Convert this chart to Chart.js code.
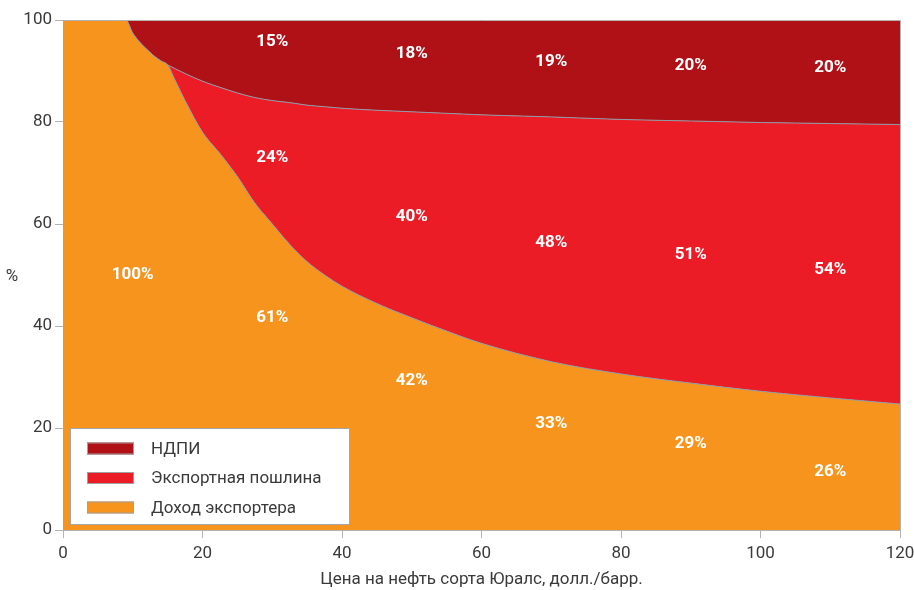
<!DOCTYPE html>
<html>
<head>
<meta charset="utf-8">
<script src="https://cdn.jsdelivr.net/npm/chart.js@4/dist/chart.umd.min.js"></script>
<style>
  html, body { margin: 0; padding: 0; background: #fff; }
  #wrap { width: 914px; height: 590px; }
</style>
</head>
<body>
<div id="wrap"><canvas id="grafico"></canvas></div>
<script>
// цена Юралс, долл./барр.
var prices   = [0, 5, 9, 10, 12.5, 14, 15, 16, 17.5, 20, 22.5, 25, 27.5, 30, 32.5, 35, 37.5, 40, 45, 50, 55, 60, 70, 80, 90, 100, 110, 120];
// доли выручки, %
var exporter = [100, 100, 100, 97.4, 93.6, 92.0, 91.2, 88.4, 84.2, 78.0, 73.8, 69.3, 64.1, 60.0, 56.0, 52.6, 50.0, 47.8, 44.4, 41.6, 39.0, 36.6, 33.0, 30.6, 28.8, 27.2, 25.9, 24.7];
var duty     = [0, 0, 0, 0, 0, 0, 0, 2.1, 5.3, 10.0, 13.0, 16.4, 20.7, 24.2, 27.8, 30.7, 33.0, 34.9, 37.9, 40.4, 42.7, 44.8, 48.0, 49.9, 51.4, 52.7, 53.8, 54.8];
var ndpi     = [0, 0, 0, 2.6, 6.4, 8.0, 8.8, 9.5, 10.5, 12.0, 13.2, 14.3, 15.2, 15.8, 16.2, 16.7, 17.0, 17.3, 17.7, 18.0, 18.3, 18.6, 19.0, 19.5, 19.8, 20.1, 20.3, 20.5];

var seriesNames  = ['Доход экспортера', 'Экспортная пошлина', 'НДПИ'];
var seriesColors = ['#F7941E', '#EC1C27', '#B01117'];

// подписи на графике: x, y (в единицах осей), текст
var exporterLabels = [[10, 50, '100%'], [30, 41.6, '61%'], [50, 29.2, '42%'], [70, 20.8, '33%'], [90, 16.9, '29%'], [110, 11.4, '26%']];
var dutyLabels     = [[30, 72.9, '24%'], [50, 61.4, '40%'], [70, 56.3, '48%'], [90, 53.9, '51%'], [110, 51, '54%']];
var ndpiLabels     = [[30, 95.8, '15%'], [50, 93.3, '18%'], [70, 91.8, '19%'], [90, 91, '20%'], [110, 90.6, '20%']];

function pts(values) {
    return prices.map(function (p, i) { return { x: p, y: values[i] }; });
}

var labelsPlugin = {
    id: 'bandLabels',
    afterDatasetsDraw: function (chart) {
        var ctx = chart.ctx, xs = chart.scales.x, ys = chart.scales.y, a = chart.chartArea;
        ctx.save();
        // рамка вокруг области графика
        ctx.strokeStyle = '#b3b3b3';
        ctx.lineWidth = 1;
        ctx.beginPath();
        ctx.moveTo(a.left, a.top + 0.5);
        ctx.lineTo(a.right + 0.5, a.top + 0.5);
        ctx.lineTo(a.right + 0.5, a.bottom);
        ctx.stroke();

        ctx.fillStyle = '#fff';
        ctx.font = 'bold 17px Roboto';
        ctx.textAlign = 'center';
        ctx.textBaseline = 'middle';
        [exporterLabels, dutyLabels, ndpiLabels].forEach(function (list) {
            list.forEach(function (l) {
                ctx.fillText(l[2], xs.getPixelForValue(l[0]), ys.getPixelForValue(l[1]));
            });
        });

        // легенда
        var lx = a.left + 7, ly = a.bottom - 102, lw = 279, lh = 96;
        ctx.fillStyle = '#fff';
        ctx.fillRect(lx, ly, lw, lh);
        ctx.strokeStyle = '#a6a6a6';
        ctx.strokeRect(lx + 0.5, ly + 0.5, lw, lh);
        ctx.font = '17px Roboto';
        ctx.textAlign = 'left';
        for (var i = 0; i < 3; i++) {
            var di = 2 - i;
            var ry = ly + 20.5 + i * 29.5;
            ctx.fillStyle = seriesColors[di];
            ctx.fillRect(lx + 17, ry - 6, 47, 12);
            ctx.strokeStyle = '#a0a0a0';
            ctx.strokeRect(lx + 17.5, ry - 5.5, 46, 11);
            ctx.fillStyle = '#3a3a3a';
            ctx.fillText(seriesNames[di], lx + 81, ry + 1);
        }

        // подпись оси y
        ctx.fillStyle = '#3a3a3a';
        ctx.font = '17px Roboto';
        ctx.textAlign = 'center';
        ctx.fillText('%', 12, (a.top + a.bottom) / 2 + 2);
        ctx.restore();
    }
};

var grafico = document.getElementById('grafico');

var chart = new Chart(grafico, {
    type: 'line',
    data: {
        datasets: [
            { label: seriesNames[0], data: pts(exporter), backgroundColor: seriesColors[0], fill: 'origin' },
            { label: seriesNames[1], data: pts(duty), backgroundColor: seriesColors[1], fill: '-1' },
            { label: seriesNames[2], data: pts(ndpi), backgroundColor: seriesColors[2], fill: '-1' }
        ]
    },
    options: {
        responsive: true,
        maintainAspectRatio: false,
        animation: false,
        layout: { padding: { top: 20, right: 14, left: 0, bottom: 0 } },
        elements: {
            point: { radius: 0 },
            line: { borderColor: '#8d9aa8', borderWidth: 1, cubicInterpolationMode: 'monotone' }
        },
        plugins: {
            legend: { display: false },
            tooltip: { enabled: false }
        },
        scales: {
            x: {
                type: 'linear',
                min: 0,
                max: 120,
                ticks: { stepSize: 20, color: '#3a3a3a', font: { family: 'Roboto', size: 17 }, padding: 6 },
                grid: { drawOnChartArea: false, tickLength: 8, color: '#b3b3b3' },
                border: { color: '#b3b3b3' },
                title: {
                    display: true,
                    text: 'Цена на нефть сорта Юралс, долл./барр.',
                    color: '#3a3a3a',
                    font: { family: 'Roboto', size: 17 },
                    padding: { top: 2, bottom: 0 }
                },
                afterFit: function (s) { s.height = 60; s.paddingRight = 0; s.paddingLeft = 0; }
            },
            y: {
                stacked: true,
                min: 0,
                max: 100,
                ticks: { stepSize: 20, color: '#3a3a3a', font: { family: 'Roboto', size: 17 }, padding: 3 },
                grid: { drawOnChartArea: false, tickLength: 8, color: '#b3b3b3' },
                border: { color: '#b3b3b3' },
                afterFit: function (s) { s.width = 63; }
            }
        }
    },
    plugins: [labelsPlugin]
});
</script>
</body>
</html>
